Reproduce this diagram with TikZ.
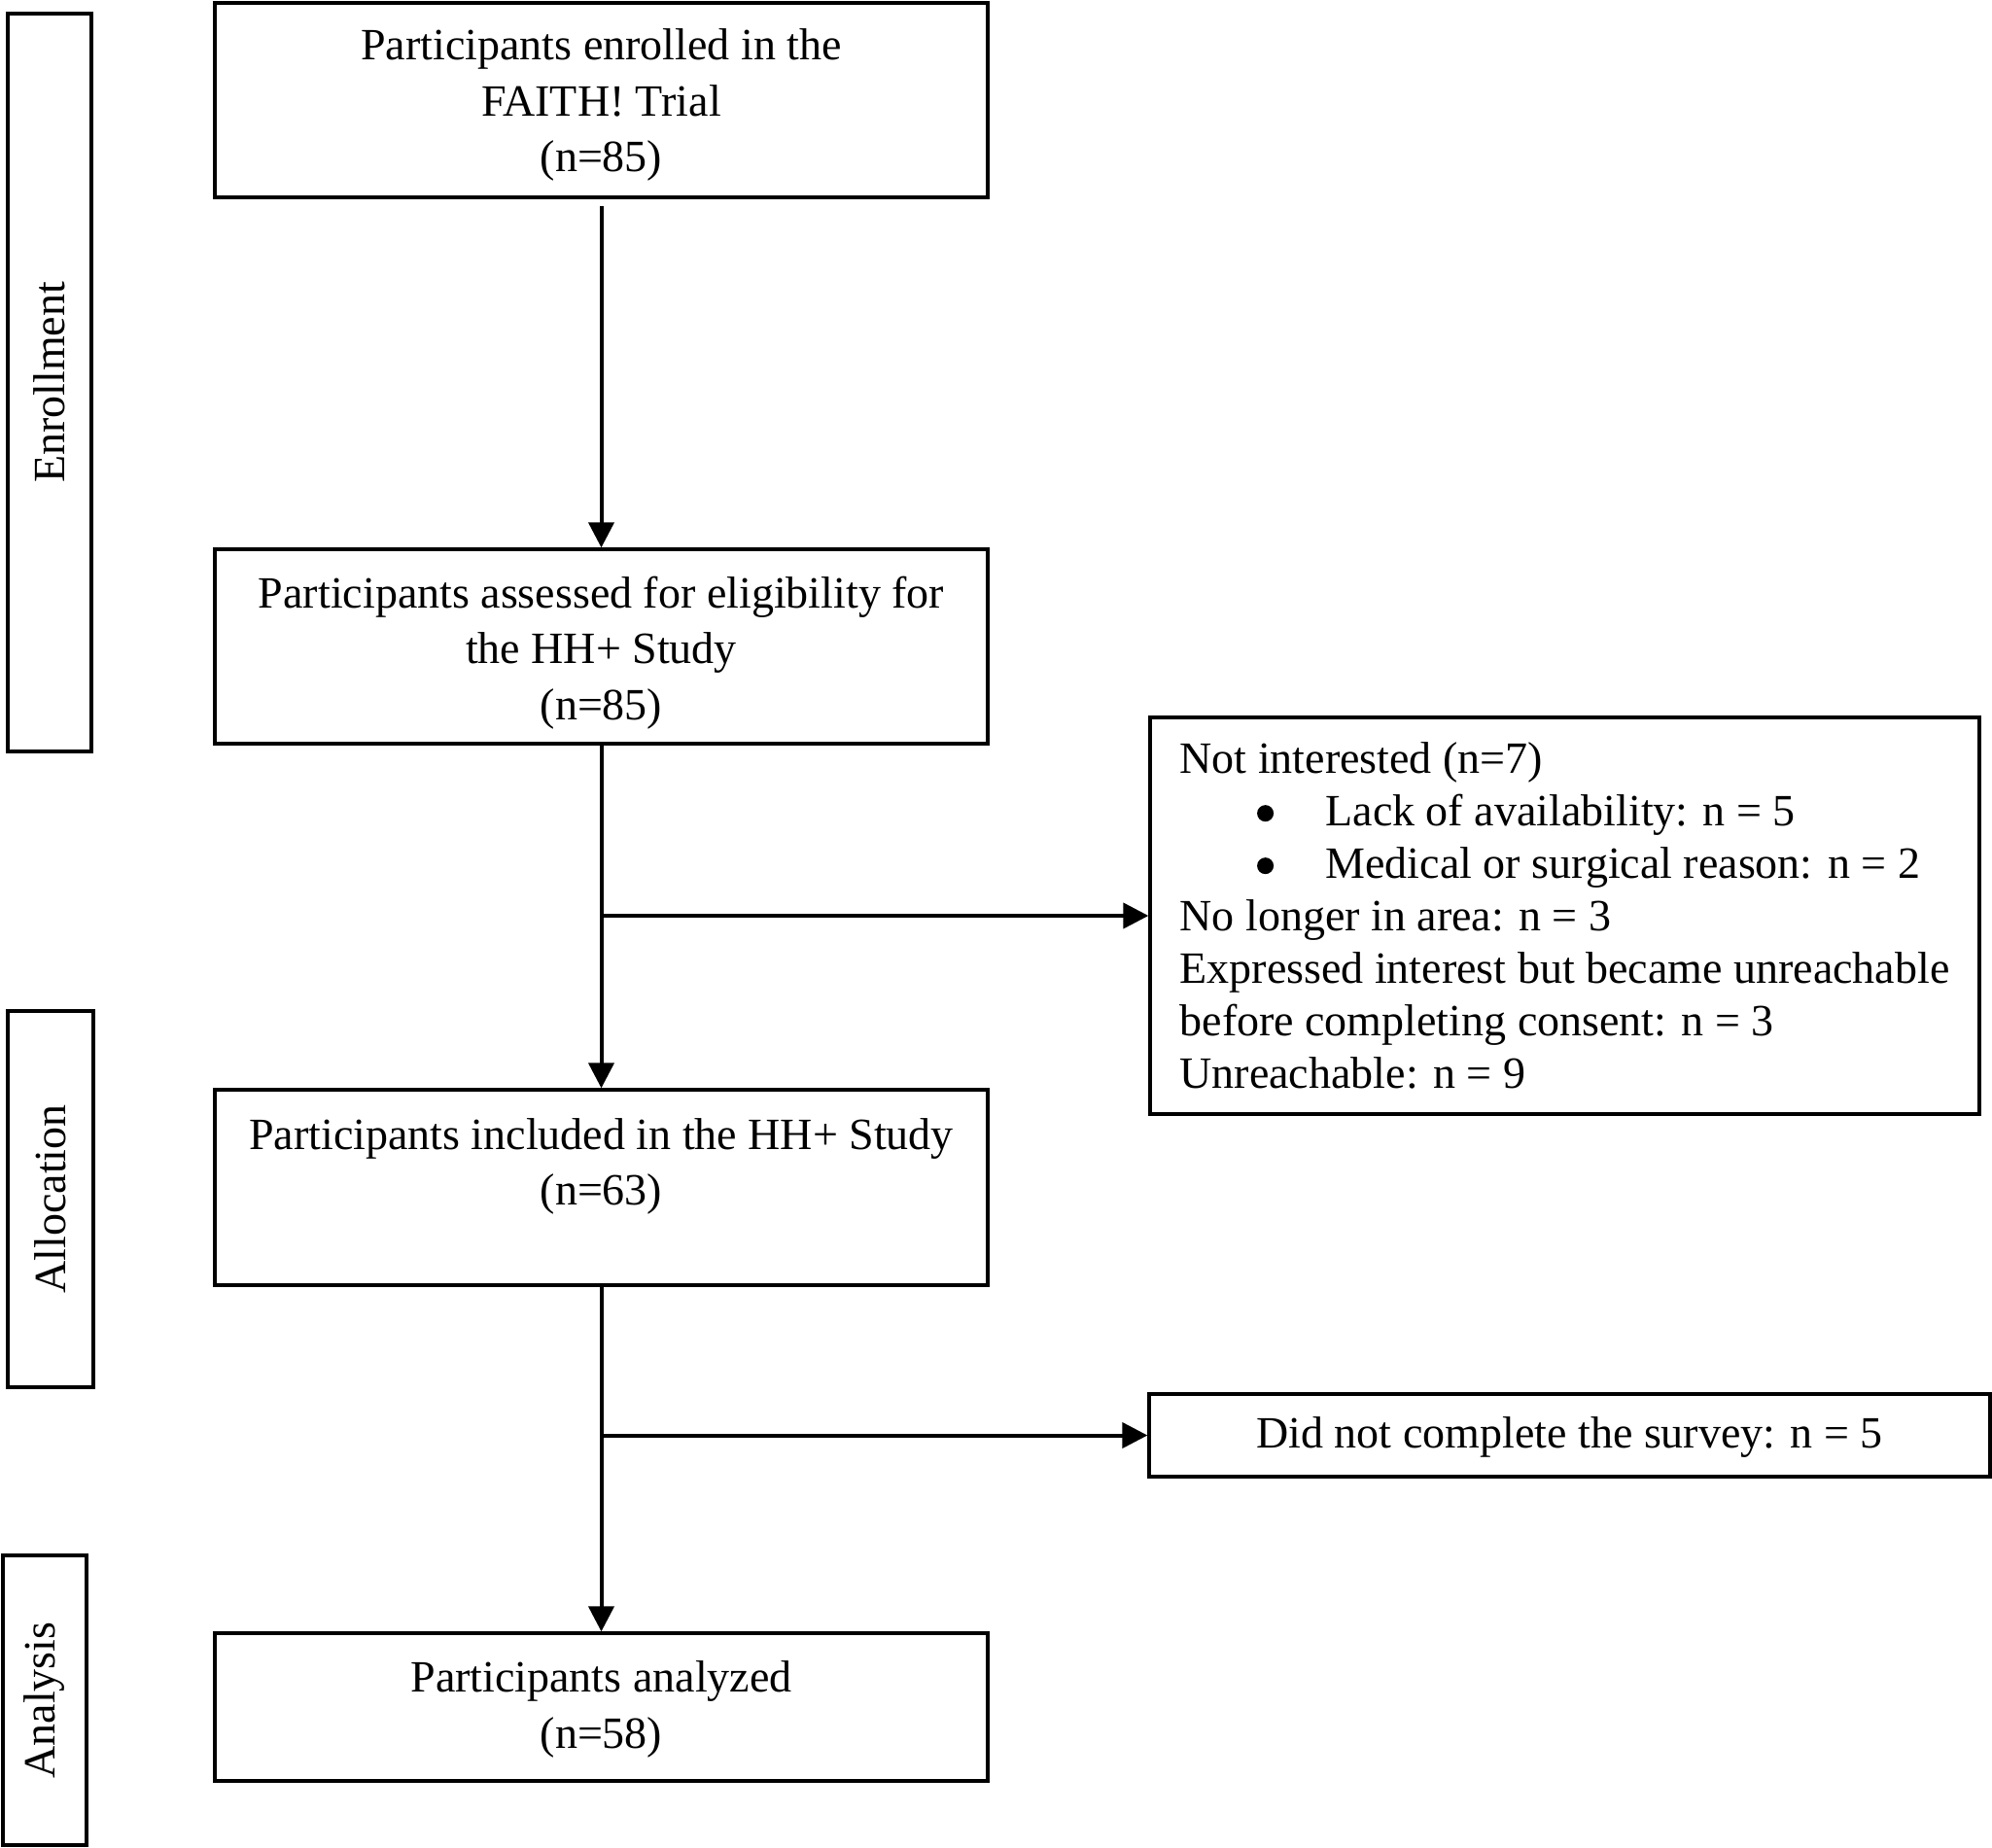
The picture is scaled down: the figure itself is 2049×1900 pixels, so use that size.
\documentclass[tikz,border=0pt]{standalone}
\usepackage{fontspec}
\setmainfont{Liberation Serif}
\usetikzlibrary{arrows.meta}
\newcommand{\mybullet}{\tikz[baseline=-13pt]\fill (0pt,0pt) circle[radius=8.5pt];}
\begin{document}
\begin{tikzpicture}[x=1pt,y=-1pt,
  box/.style={draw,line width=3.3pt,align=center,inner sep=0pt,
    font=\fontsize{46}{57.5}\selectfont},
  side/.style={draw,line width=3.3pt,inner sep=0pt,rotate=90,
    font=\fontsize{46}{57.5}\selectfont},
  conn/.style={line width=4pt},
  arr/.style={conn,-{Triangle[length=26pt,width=26pt]}}]
\useasboundingbox (0,0) rectangle (2049,1900);

% stage labels
\node[side,minimum width=759pt,minimum height=86pt] (s1) at (51,393.5) {Enrollment};
\node[side,minimum width=387pt,minimum height=88pt] (s2) at (52,1233.5) {Allocation};
\node[side,minimum width=298pt,minimum height=86pt] (s3) at (46,1749) {Analysis};

% main column
\node[box,minimum width=795pt,minimum height=200pt] (b1) at (618.5,103)
  {\rule{0pt}{42pt}Participants enrolled in the\\FAITH! Trial\\(n=85)};
\node[box,minimum width=795pt,minimum height=200pt] (b2) at (618.5,665)
  {\rule{0pt}{45pt}Participants assessed for eligibility for\\the HH+ Study\\(n=85)};
\node[box,minimum width=795pt,minimum height=201pt] (b3) at (618.5,1221.5)
  {\rule{0pt}{36pt}Participants included in the HH+ Study\\(n=63)\\\mbox{}};
\node[box,minimum width=795pt,minimum height=152pt] (b4) at (618.5,1756)
  {\rule{0pt}{37pt}Participants analyzed\\(n=58)};

% exclusion boxes
\node[box,align=left,minimum width=853pt,minimum height=408pt,
  font=\fontsize{46}{54}\selectfont] (r1) at (1609.5,942)
  {Not interested (n=7)\\
   \hspace*{79.5pt}\makebox[70.5pt][l]{\mybullet}Lack of availability: n = 5\\
   \hspace*{79.5pt}\makebox[70.5pt][l]{\mybullet}Medical or surgical reason: n = 2\\
   No longer in area: n = 3\\
   Expressed interest but became unreachable\\
   before completing consent: n = 3\\
   Unreachable: n = 9};
\node[box,minimum width=865pt,minimum height=85pt] (r2) at (1614.5,1476.5)
  {\rule{0pt}{36pt}Did not complete the survey: n = 5};

% connectors
\draw[arr,shorten <=7pt] (b1) -- (b2);
\draw[arr] (b2) -- (b3);
\coordinate (j1) at (b2.south |- r1.west);
\draw[arr] (j1) -- (r1.west);
\draw[arr] (b3) -- (b4);
\coordinate (j2) at (b3.south |- r2.west);
\draw[arr] (j2) -- (r2.west);
\end{tikzpicture}
\end{document}
